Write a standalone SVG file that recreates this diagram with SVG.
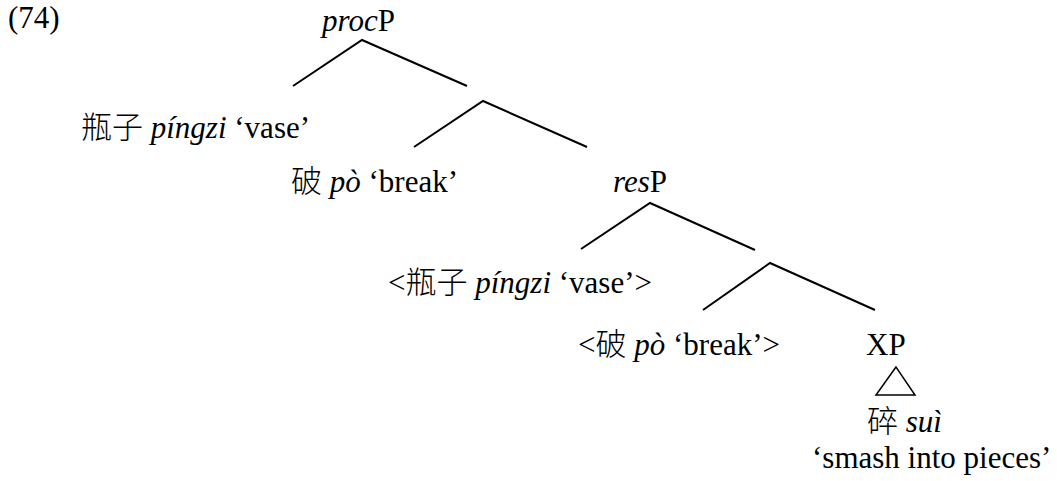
<svg xmlns="http://www.w3.org/2000/svg" width="1057" height="481" viewBox="0 0 1057 481">
<style>
text{font-family:"Liberation Serif","Times New Roman","DejaVu Serif",serif;font-size:31px;fill:#000}
.i{font-style:italic}
.c{font-family:"Noto Sans CJK SC","Noto Sans CJK TC",sans-serif;font-weight:300}
.e{stroke:#000;stroke-width:2;fill:none;stroke-linecap:butt}
</style>
<rect width="1057" height="481" fill="#fff"/>
<text id="label" x="8" y="28">(74)</text>
<g id="procP"><text x="322" y="31"><tspan class="i">proc</tspan>P</text></g>
<g id="vase"><text x="81" y="138"><tspan class="c">瓶子</tspan> <tspan class="i">píngzi</tspan> ‘vase’</text></g>
<g id="po"><text x="291" y="192"><tspan class="c">破</tspan> <tspan class="i">pò</tspan> ‘break’</text></g>
<g id="resP"><text x="613" y="192"><tspan class="i">res</tspan>P</text></g>
<g id="vase-trace"><text x="388" y="293">&lt;<tspan class="c">瓶子</tspan> <tspan class="i">píngzi</tspan> ‘vase’&gt;</text></g>
<g id="po-trace"><text x="578" y="355">&lt;<tspan class="c">破</tspan> <tspan class="i">pò</tspan> ‘break’&gt;</text></g>
<g id="XP"><text x="866" y="355">XP</text></g>
<g id="sui"><text x="867" y="432"><tspan class="c">碎</tspan> <tspan class="i">suì</tspan></text><text x="812" y="468">‘smash into pieces’</text></g>
<g id="connectors" class="e">
<polyline points="293,86 362,40 467,86"/>
<polyline points="414,147 483,101 587,147"/>
<polyline points="581,249 650,203 755,250"/>
<polyline points="703,310 770,263 875,310"/>
<polygon points="896,367 876,395 915,395" stroke-width="1.5"/>
</g>
</svg>
